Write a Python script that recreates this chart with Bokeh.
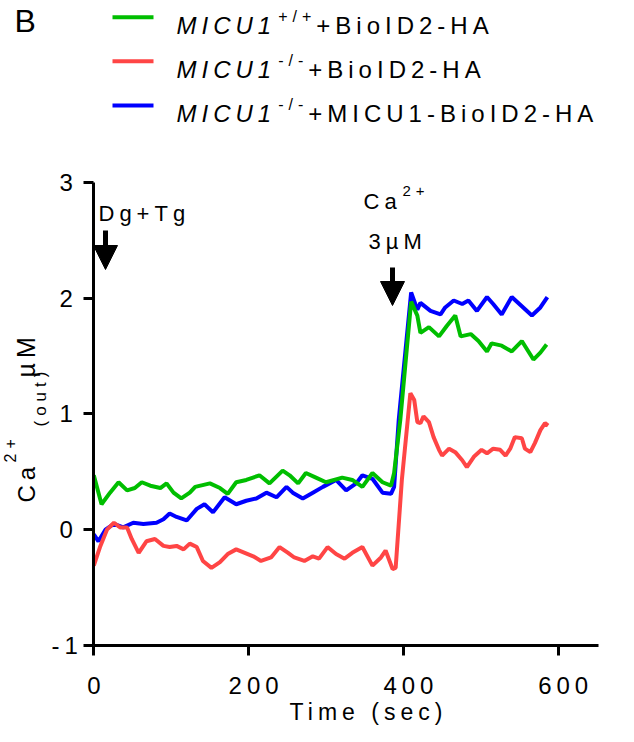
import math
from bokeh.plotting import figure
from bokeh.models import Range1d, Label, Arrow, NormalHead, FixedTicker
from bokeh.embed import file_html
from bokeh.resources import INLINE

# ---------------- data ----------------
t_wt = [0, 10, 21, 32, 43, 53, 62, 73, 86, 94, 103, 113, 124, 131, 150, 163, 173, 184, 197, 214,
        227, 244, 253, 264, 274, 287, 300, 321, 334, 347, 360, 373, 384, 388, 396, 410, 418, 422,
        433, 446, 456, 467, 474, 487, 497, 508, 514, 527, 540, 553, 568, 577, 585]
ca_wt = [0.47, 0.22, 0.32, 0.41, 0.34, 0.36, 0.41, 0.38, 0.36, 0.40, 0.32, 0.27, 0.32, 0.37, 0.40,
         0.36, 0.31, 0.41, 0.43, 0.47, 0.40, 0.51, 0.47, 0.40, 0.49, 0.45, 0.41, 0.45, 0.43, 0.37,
         0.49, 0.41, 0.38, 0.49, 0.95, 1.97, 1.85, 1.70, 1.75, 1.67, 1.76, 1.85, 1.67, 1.69, 1.63,
         1.54, 1.61, 1.59, 1.54, 1.63, 1.47, 1.53, 1.60]

t_ko = [0, 8, 17, 26, 34, 43, 49, 58, 68, 79, 90, 98, 107, 116, 124, 133, 141, 152, 163, 173, 184,
        195, 206, 216, 229, 240, 251, 259, 272, 283, 291, 302, 313, 324, 334, 347, 360, 371, 377,
        386, 390, 398, 409, 414, 418, 422, 426, 433, 439, 446, 450, 459, 467, 476, 482, 491, 501,
        508, 516, 525, 532, 538, 544, 553, 557, 564, 570, 577, 583, 587]
ca_ko = [-0.31, -0.15, 0.00, 0.06, 0.02, 0.02, -0.08, -0.20, -0.10, -0.08, -0.14, -0.15, -0.14,
         -0.17, -0.12, -0.15, -0.27, -0.33, -0.28, -0.21, -0.17, -0.20, -0.23, -0.27, -0.24, -0.15,
         -0.20, -0.24, -0.27, -0.23, -0.25, -0.15, -0.21, -0.25, -0.20, -0.15, -0.31, -0.24, -0.18,
         -0.34, -0.33, 0.43, 1.18, 1.12, 0.93, 0.92, 0.98, 0.93, 0.80, 0.69, 0.64, 0.70, 0.67, 0.60,
         0.54, 0.63, 0.69, 0.66, 0.70, 0.69, 0.64, 0.70, 0.80, 0.79, 0.70, 0.67, 0.75, 0.86, 0.92,
         0.90]

t_rescue = [0, 6, 15, 26, 38, 51, 64, 81, 90, 98, 107, 120, 133, 143, 154, 169, 184, 197, 210, 223,
            236, 249, 257, 270, 283, 296, 313, 326, 339, 347, 360, 373, 384, 388, 394, 410, 418,
            422, 435, 448, 454, 465, 476, 484, 495, 508, 516, 527, 540, 553, 566, 577, 586]
ca_rescue = [-0.04, -0.10, 0.00, 0.05, 0.02, 0.06, 0.05, 0.06, 0.09, 0.14, 0.11, 0.08, 0.18, 0.22,
             0.15, 0.28, 0.22, 0.25, 0.27, 0.32, 0.28, 0.37, 0.32, 0.27, 0.32, 0.37, 0.43, 0.34,
             0.40, 0.47, 0.44, 0.32, 0.31, 0.37, 0.95, 2.05, 1.90, 1.96, 1.89, 1.86, 1.92, 1.98,
             1.95, 1.98, 1.89, 2.01, 1.95, 1.86, 2.01, 1.93, 1.85, 1.92, 2.01]

x_ticks = [0, 200, 400, 600]
y_ticks = [-1, 0, 1, 2, 3]
x_axis_end = 652

legend_sup = ["+/+", "-/-", "-/-"]
legend_rest = ["+BioID2-HA", "+BioID2-HA", "+MICU1-BioID2-HA"]
colors = ["#00BE00", "#FF4545", "#0000FF"]

# ---------------- figure ----------------
W, H = 618, 726
FONT = "Liberation Sans"
LS = 5  # letter spacing px

# pixel placement of the data origin and scale (layout only)
PX_X0, XS = 93.3, 0.774      # canvas px of x=0, px per second
PY_Y0, YS = 529.2, 115.75    # canvas px of y=0, px per µM

p = figure(width=W, height=H, output_backend="svg", toolbar_location=None,
           x_range=Range1d(-PX_X0 / XS, (W - PX_X0) / XS),
           y_range=Range1d(-(H - PY_Y0) / YS, PY_Y0 / YS),
           min_border_left=0, min_border_right=0, min_border_top=0, min_border_bottom=0)
p.styles = {"letter-spacing": f"{LS}px"}
p.grid.visible = False
p.outline_line_color = None
p.background_fill_color = "white"
p.border_fill_color = "white"


def dx(px):
    return (px - PX_X0) / XS


def dy(py):
    return (PY_Y0 - py) / YS


for ax in (p.xaxis[0], p.yaxis[0]):
    ax.axis_line_width = 3
    ax.major_tick_line_width = 3
    ax.major_tick_out = 10
    ax.major_tick_in = 0
    ax.minor_tick_line_color = None
    ax.major_label_text_font = FONT
    ax.major_label_text_font_size = "24px"
    ax.major_label_text_color = "black"
    ax.axis_line_color = "black"
    ax.major_tick_line_color = "black"

p.xaxis.ticker = FixedTicker(ticks=x_ticks)
p.yaxis.ticker = FixedTicker(ticks=y_ticks)
p.xaxis.fixed_location = y_ticks[0]
p.yaxis.fixed_location = x_ticks[0]
p.xaxis.bounds = (x_ticks[0], x_axis_end)
p.yaxis.bounds = (y_ticks[0], y_ticks[-1])
p.yaxis.major_label_overrides = {v: str(v) for v in y_ticks}
p.xaxis.major_label_standoff = 22
p.yaxis.major_label_standoff = 11

# traces
p.line(t_rescue, ca_rescue, line_color=colors[2], line_width=4)
p.line(t_wt, ca_wt, line_color=colors[0], line_width=4)
p.line(t_ko, ca_ko, line_color=colors[1], line_width=4)

# ---------------- text helpers ----------------
CW = {"M": 833, "I": 278, "C": 722, "U": 722, "1": 556, "+": 584, "/": 278, "-": 333, "B": 667,
      "i": 222, "o": 556, "D": 722, "2": 556, "H": 722, "A": 667, " ": 278, "a": 556, "T": 611,
      "m": 833, "e": 556, "(": 333, "s": 500, "c": 556, ")": 333, "g": 556, "\u00b5": 576,
      "3": 556, "u": 556, "t": 278}


def tw(s, fs):
    return sum(CW.get(c, 556) for c in s) / 1000 * fs + len(s) * LS


BASE_SHIFT = 0.3  # observed offset of rendered baseline, in em


def lab(text, px, py, fs, style="normal", angle=0.0, align="left"):
    if angle == 0:
        py -= BASE_SHIFT * fs
    else:
        px -= BASE_SHIFT * fs
    p.add_layout(Label(x=dx(px), y=dy(py), text=text, text_font=FONT,
                       text_font_size=f"{fs}px", text_font_style=style, text_color="black",
                       text_baseline="alphabetic", text_align=align, angle=angle))


# panel letter
lab("B", 14, 30, 32)

# legend
row_line_y = [16.7, 60.7, 105]
row_base_y = [31.7, 76, 120]
LF, SF = 24, 16
for i in range(3):
    p.segment(x0=[dx(112)], y0=[dy(row_line_y[i])], x1=[dx(153)], y1=[dy(row_line_y[i])],
              line_color=colors[i], line_width=4)
    x = 176
    lab("MICU1", x, row_base_y[i], LF, style="italic")
    x += tw("MICU1", LF) + 2
    lab(legend_sup[i], x, row_base_y[i] - 11, SF)
    x += tw(legend_sup[i], SF)
    lab(legend_rest[i], x, row_base_y[i], LF)

# x axis title
lab("Time (sec)", 343, 718, 23, align="center")

# y axis title (rotated)
R = math.pi / 2
lab("Ca", 33, 502, 24, angle=R)
lab("2+", 14, 462, 16, angle=R)
lab("(out)", 45, 426, 17, angle=R)
lab("\u00b5M", 33, 377, 25, angle=R)

# annotations
lab("Dg+Tg", 98, 220, 22)
lab("Ca", 363, 208, 22)
lab("2+", 402, 195, 15)
lab("3\u00b5M", 368, 248, 22)

p.add_layout(Arrow(end=NormalHead(size=24, fill_color="black", line_color="black"),
                   x_start=dx(105), y_start=dy(230), x_end=dx(105), y_end=dy(269),
                   line_width=5, line_color="black"))
p.add_layout(Arrow(end=NormalHead(size=24, fill_color="black", line_color="black"),
                   x_start=dx(392), y_start=dy(267), x_end=dx(392), y_end=dy(305),
                   line_width=5, line_color="black"))

open("out.html", "w").write(file_html(p, INLINE))
